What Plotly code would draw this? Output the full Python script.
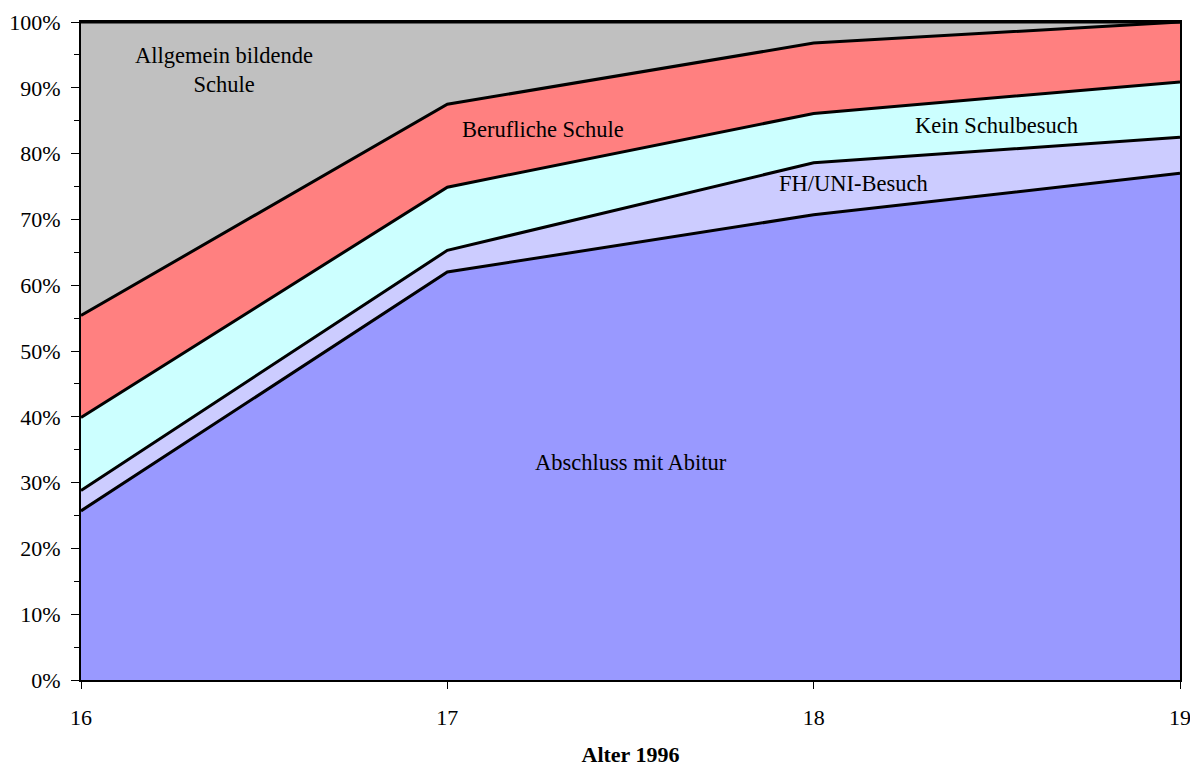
import plotly.graph_objects as go

alter = [16, 17, 18, 19]
abitur = [25.7, 62.0, 70.7, 77.0]
fh_uni = [3.1, 3.3, 7.9, 5.5]
kein_schul = [11.1, 9.6, 7.5, 8.4]
beruflich = [15.5, 12.6, 10.7, 9.1]
allgemein = [44.6, 12.5, 3.2, 0.0]

series = [
    ("Abschluss mit Abitur", abitur, "#9999FF"),
    ("FH/UNI-Besuch", fh_uni, "#CCCCFF"),
    ("Kein Schulbesuch", kein_schul, "#CCFFFF"),
    ("Berufliche Schule", beruflich, "#FF8080"),
    ("Allgemein bildende Schule", allgemein, "#C0C0C0"),
]

font_family = "Liberation Serif, Times New Roman, serif"

fig = go.Figure()
for name, vals, col in series:
    fig.add_trace(go.Scatter(
        x=alter, y=vals, name=name, mode="lines", stackgroup="one",
        fillcolor=col, line=dict(color="black", width=3),
        hoverinfo="x+y+name",
    ))

labels = [
    (16.39, 92.7, "Allgemein bildende<br>Schule"),
    (17.26, 83.6, "Berufliche Schule"),
    (18.50, 84.2, "Kein Schulbesuch"),
    (18.11, 75.5, "FH/UNI-Besuch"),
    (17.50, 33.0, "Abschluss mit Abitur"),
]
for x, y, t in labels:
    fig.add_annotation(x=x, y=y, text=t, showarrow=False,
                       font=dict(family=font_family, size=22.5, color="black"))

fig.update_layout(
    width=1190, height=759,
    margin=dict(l=73, r=18, t=14, b=87, autoexpand=False),
    paper_bgcolor="white", plot_bgcolor="white",
    showlegend=False,
    font=dict(family=font_family, size=22, color="black"),
    xaxis=dict(
        range=[16, 19], tickvals=alter, ticktext=[str(a) for a in alter],
        showgrid=False, zeroline=False, showline=True, linecolor="black",
        linewidth=2, mirror=True, ticks="outside", ticklen=7, tickcolor="black",
        ticklabelstandoff=10, automargin=False,
        title=dict(text="<b>Alter 1996</b>", font=dict(size=22), standoff=18),
    ),
    yaxis=dict(
        range=[0, 100], tickvals=list(range(0, 101, 10)),
        ticktext=[f"{v}%" for v in range(0, 101, 10)],
        showgrid=False, zeroline=False, showline=True, linecolor="black",
        linewidth=2, mirror=True, ticks="outside", ticklen=8, tickcolor="black",
        minor=dict(dtick=5, ticks="outside", ticklen=5, tickcolor="black"),
        ticklabelstandoff=6, automargin=False,
    ),
)

fig.write_html("out.html")
